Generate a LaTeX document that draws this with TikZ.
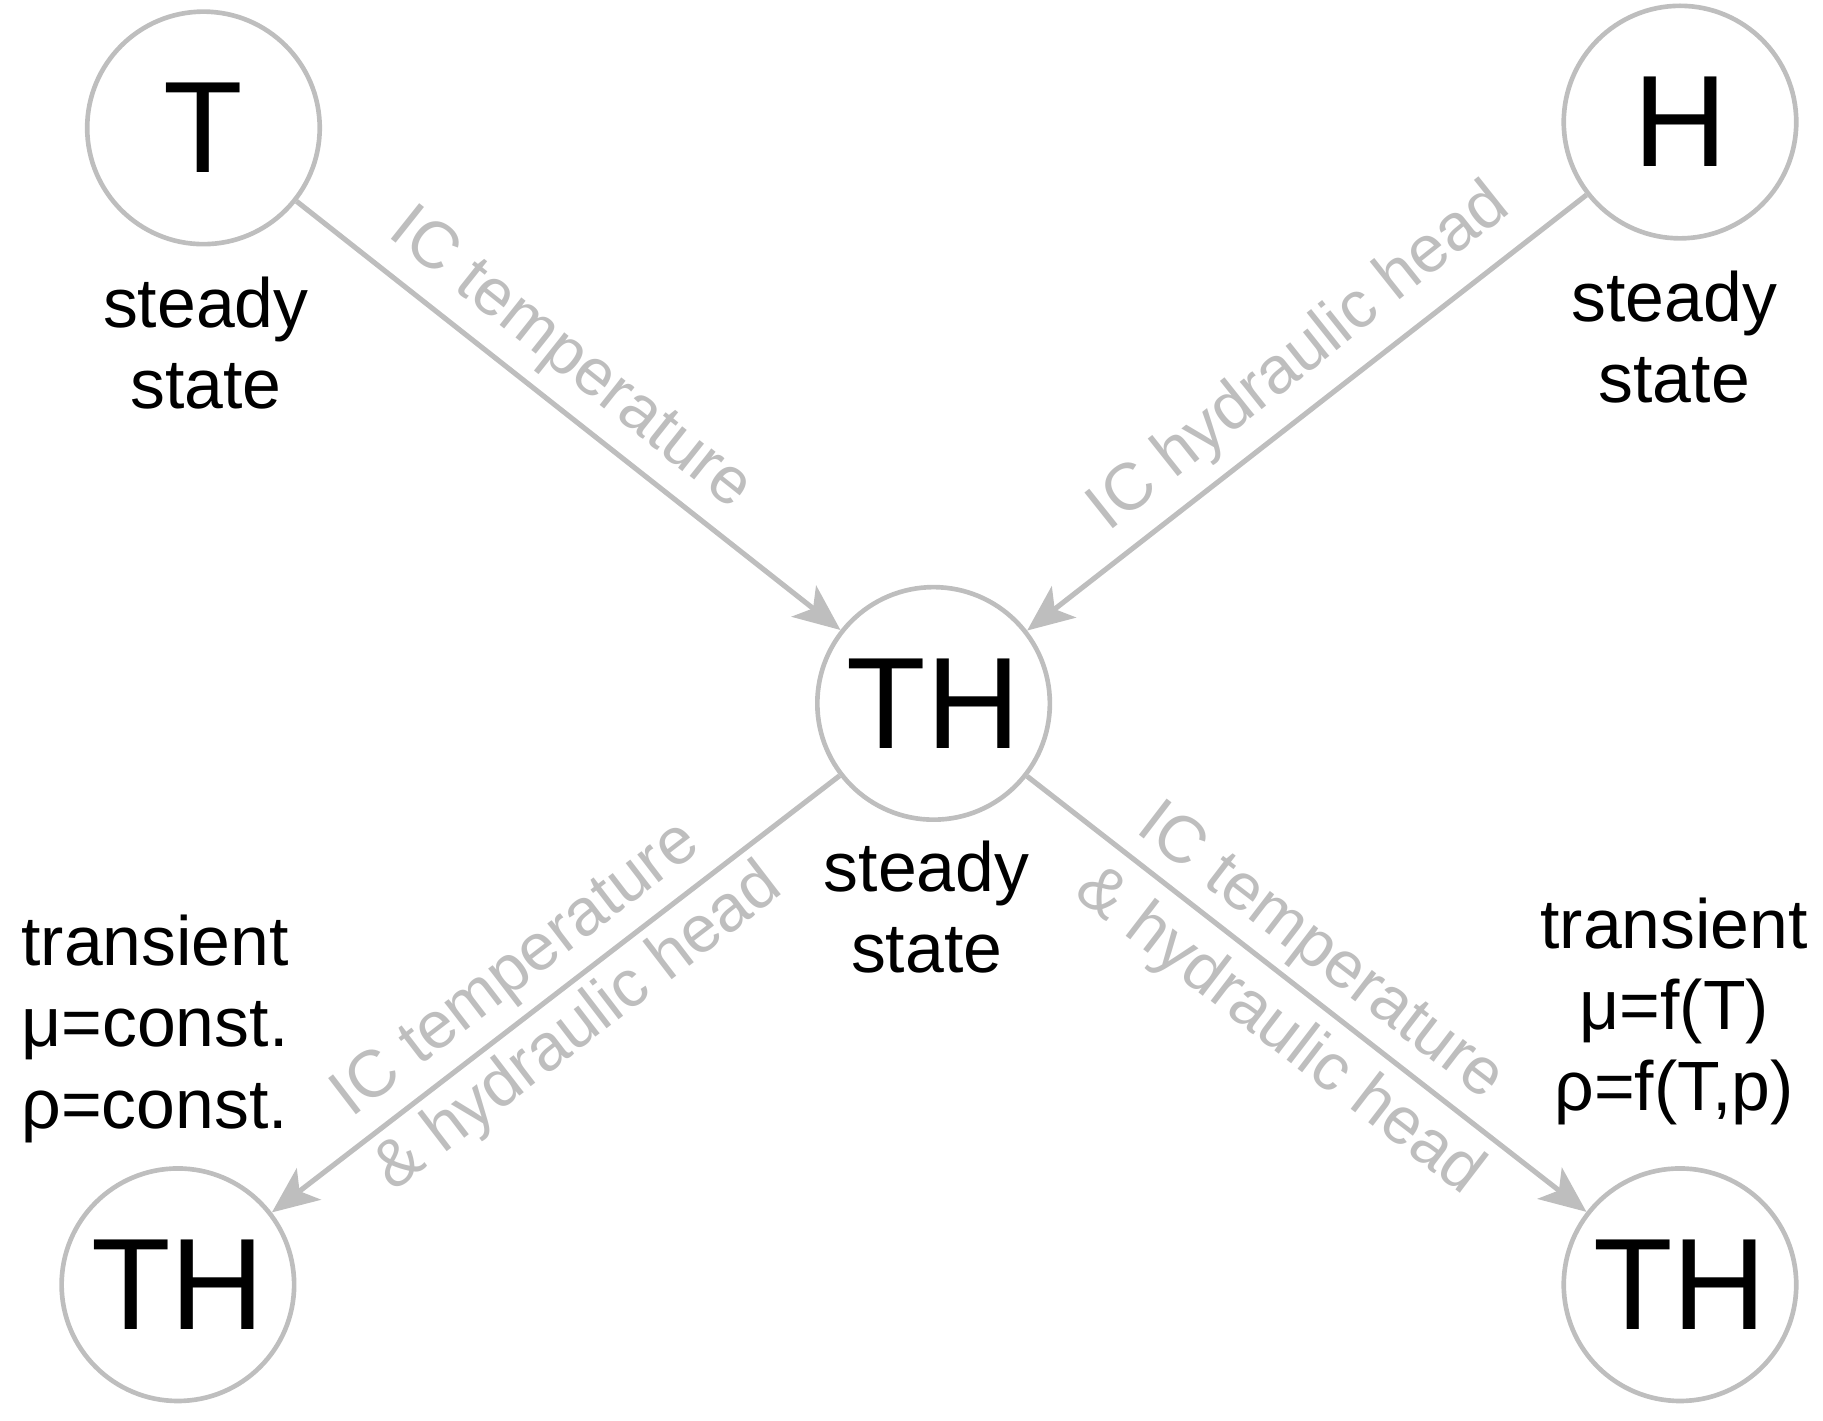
\documentclass[tikz,border=0pt]{standalone}
\usepackage{fontspec}
\setmainfont{Liberation Sans}
\usetikzlibrary{arrows.meta}
\definecolor{lg}{RGB}{190,190,190}
\begin{document}
\begin{tikzpicture}[x=0.5pt,y=-0.5pt,
  circ/.style={circle,draw=lg,line width=2pt,minimum size=100pt,inner sep=0pt,font=\fontsize{56}{60}\selectfont},
  arr/.style={draw=lg,line width=2.2pt,-{Stealth[length=20pt,width=17pt,inset=5pt]}},
  glab/.style={text=lg,font=\fontsize{28.5}{32}\selectfont,inner sep=0pt},
  blab/.style={font=\fontsize{30}{35}\selectfont,align=center,inner sep=0pt}]
\useasboundingbox (0,0) rectangle (1568,1222);
\node[circ] (T) at (175,110) {T};
\node[circ] (H) at (1445,105) {H};
\node[circ] (C) at (803,605) {TH};
\node[circ] (L) at (153,1105) {TH};
\node[circ] (R) at (1445,1105) {TH};
\draw[arr] (T) -- (C);
\draw[arr] (H) -- (C);
\draw[arr] (C) -- (L);
\draw[arr] (C) -- (R);
\node[glab,rotate=-38.5] (l1) at (490,310) {IC temperature};
\node[glab,rotate=38.5] (l2) at (1118,308) {IC hydraulic head};
\node[glab,rotate=37.5] (l3) at (445,835) {IC temperature};
\node[glab,rotate=37.5] (l4) at (498,885) {\& hydraulic head};
\node[glab,rotate=-37.5] (l5) at (1135,820) {IC temperature};
\node[glab,rotate=-37.5] (l6) at (1100,888) {\& hydraulic head};
\node[blab] (s1) at (177,295) {steady\\state};
\node[blab] (s2) at (1440,290) {steady\\state};
\node[blab] (s3) at (797,780) {steady\\state};
\node[blab,align=left,anchor=west] (t1) at (18,885) {transient\\μ=const.\\ρ=const.};
\node[blab] (t2) at (1440,870) {transient\\μ=f(T)\\ρ=f(T,p)};
\end{tikzpicture}
\end{document}
